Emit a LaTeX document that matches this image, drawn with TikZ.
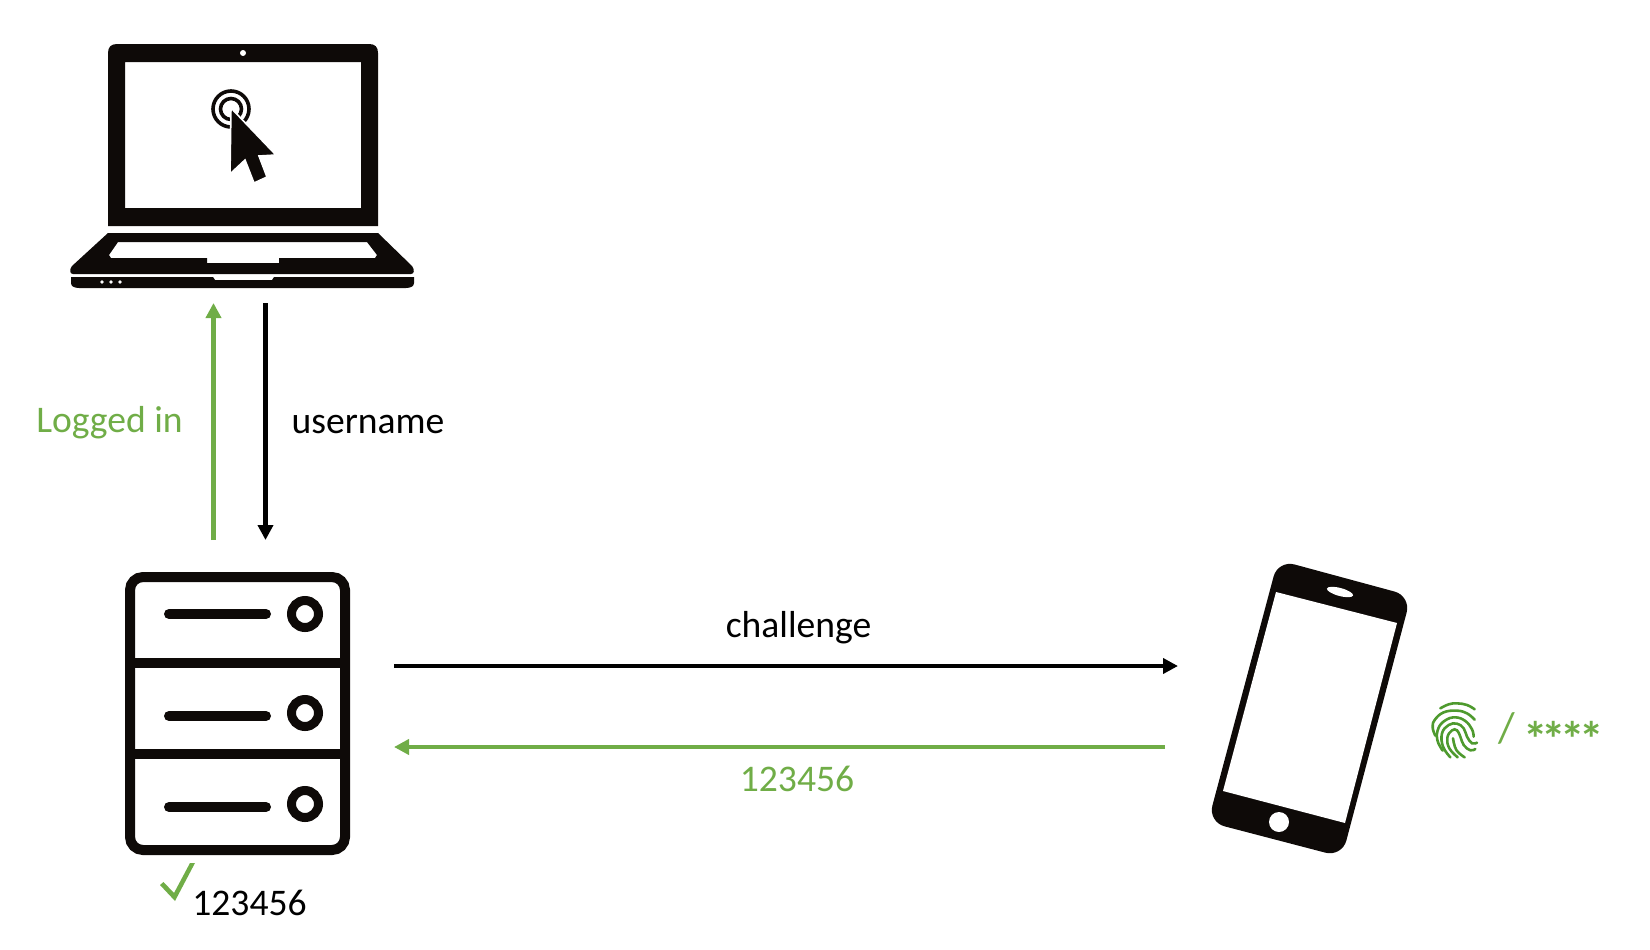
\documentclass[tikz,border=0pt]{standalone}
\usepackage{fontspec}
\setmainfont{Carlito}
\usetikzlibrary{arrows.meta}
\definecolor{okgreen}{HTML}{70AD47}
\definecolor{fpgreen}{HTML}{4E9A2E}
\definecolor{icon}{HTML}{0E0A08}
\tikzset{
  label text/.style={font=\fontsize{21.4}{26}\selectfont,inner sep=0pt},
  box/.style={inner sep=0pt,outer sep=0pt,rectangle},
  flow/.style={line width=4.8*0.02cm,-{Triangle[length=15*0.02cm,width=15*0.02cm]}},
  icon fill/.style={fill=icon,draw=none},
  bar/.style={draw=icon,line width=10*0.02cm,line cap=round},
  knob/.style={draw=icon,line width=9*0.02cm,fill=white},
  rack/.style={draw=icon,line width=10*0.02cm},
  ridge/.style={draw=fpgreen,line width=2.6*0.02cm,line cap=round,smooth,tension=0.7},
}
\begin{document}
\begin{tikzpicture}[x=0.02cm,y=-0.02cm]
\useasboundingbox (0,0) rectangle (1650,950);
% anchor nodes for the three devices
\node[box,minimum width=343*0.02cm,minimum height=259*0.02cm] (laptop) at (242.5,173.5) {};
\node[box,minimum width=269*0.02cm,minimum height=315*0.02cm] (server) at (259.5,697.5) {};
\node[box,minimum width=240*0.02cm,minimum height=300*0.02cm] (phone) at (1298,710) {};
% laptop
\fill[icon fill,even odd rule]
  (108,226) -- (108,53) .. controls (108,47) and (111,44) .. (117,44) -- (369,44) .. controls (375,44) and (378,47) .. (378,53) -- (378,226) -- cycle
  (125,62) rectangle (361,208);
\fill[white] (243,53) circle[radius=3];
\draw[icon,line width=3.6*0.02cm] (231,109) circle[radius=18];
\draw[icon,line width=3.6*0.02cm] (231,109) circle[radius=10.5];
\path[fill=icon,draw=white,line width=1.6*0.02cm,line join=miter]
  (231,108) -- (276,155) -- (259,156) -- (267,177) -- (254,183) -- (245,160) -- (230,174) -- cycle;
\fill[icon fill,even odd rule]
  (108,233) -- (378,233) -- (412,266) .. controls (415,270) and (414,274) .. (411,274) -- (73,274) .. controls (70,274) and (69,270) .. (72,266) -- cycle
  (118,242) -- (367,242) -- (377,255) -- (375,258) -- (279,258) -- (279,263) -- (207,263) -- (207,258) -- (111,258) -- (109,255) -- cycle;
\fill[icon fill] (71,277) -- (213,277) -- (215,280) -- (272,280) -- (274,277) -- (414,277) -- (414,283)
  .. controls (414,286) and (411,288) .. (406,288) -- (79,288) .. controls (74,288) and (71,286) .. (71,283) -- cycle;
\fill[white] (102,282) circle[radius=1.8] (111,282) circle[radius=1.8] (120,282) circle[radius=1.8];
% server
\draw[rack,rounded corners=13*0.02cm] (130,577) rectangle (345,850);
\draw[rack] (130,663) -- (345,663);
\draw[rack] (130,754) -- (345,754);
\draw[bar] (169,614) -- (266,614);
\draw[bar] (169,716) -- (266,716);
\draw[bar] (169,807) -- (266,807);
\draw[knob] (305,614) circle[radius=13.5];
\draw[knob] (305,713) circle[radius=13.5];
\draw[knob] (305,804) circle[radius=13.5];
% check mark
\fill[okgreen] (160,885) -- (163.5,882) -- (174,893) -- (190,863) -- (195,863) -- (175,901) -- cycle;
\node[label text] (stored) at (249.5,903) {123456};
% phone
\fill[icon,rounded corners=17*0.02cm] (1278,560) -- (1411,596) -- (1342,857) -- (1208,822) -- cycle;
\fill[white] (1276,592) -- (1397,623) -- (1345,823) -- (1223,791) -- cycle;
\fill[white,rotate around={-15:(1340,592)}] (1340,592) ellipse[x radius=13.5,y radius=4];
\fill[white] (1279,822) circle[radius=10];
% fingerprint
\begin{scope}[shift={(1422,695)},x=0.02cm/3,y=-0.02cm/3]
\draw[ridge] plot coordinates {(55,40) (80,28) (105,25) (135,30) (158,43)};
\draw[ridge] plot coordinates {(40,122) (32,98) (38,75) (65,52) (105,47) (135,55) (158,74)};
\draw[ridge] plot coordinates {(62,167) (46,135) (49,100) (70,76) (100,67) (130,78) (150,103) (155,125)};
\draw[ridge] plot coordinates {(85,187) (63,155) (60,115) (80,90) (105,86) (125,100) (135,125) (150,145) (165,143)};
\draw[ridge] plot coordinates {(107,187) (82,160) (76,128) (90,106) (105,106) (115,125) (125,150) (145,166) (160,162)};
\draw[ridge] plot coordinates {(128,187) (103,165) (93,130)};
\end{scope}
\node[label text,text=okgreen,font=\fontsize{24.5}{30}\selectfont] (slash) at (1506.5,728.5) {/};
\node[label text,text=okgreen,font=\bfseries\fontsize{28}{32}\selectfont,anchor=base] (stars) at (1563.5,756) {*\kern-3.3pt*\kern-3.3pt*\kern-3.3pt*};
% labels
\node[label text,text=okgreen] (logged) at (109.5,423) {Logged in};
\node[label text] (user) at (368,424) {username};
\node[label text] (chal) at (798.5,628) {challenge};
\node[label text,text=okgreen] (code) at (797,779) {123456};
% connector guides
\coordinate (upx) at (213.5,0);
\coordinate (downx) at (265.5,0);
\coordinate (outy) at (0,666);
\coordinate (backy) at (0,747);
\coordinate (backstart) at (1165,747);
% connectors
\draw[flow,okgreen] (server.north -| upx) -- (laptop.south -| upx);
\draw[flow,black] (laptop.south -| downx) -- (server.north -| downx);
\draw[flow,black] (server.east |- outy) -- (phone.west |- outy);
\draw[flow,okgreen] (backstart) -- (server.east |- backy);
\end{tikzpicture}
\end{document}
